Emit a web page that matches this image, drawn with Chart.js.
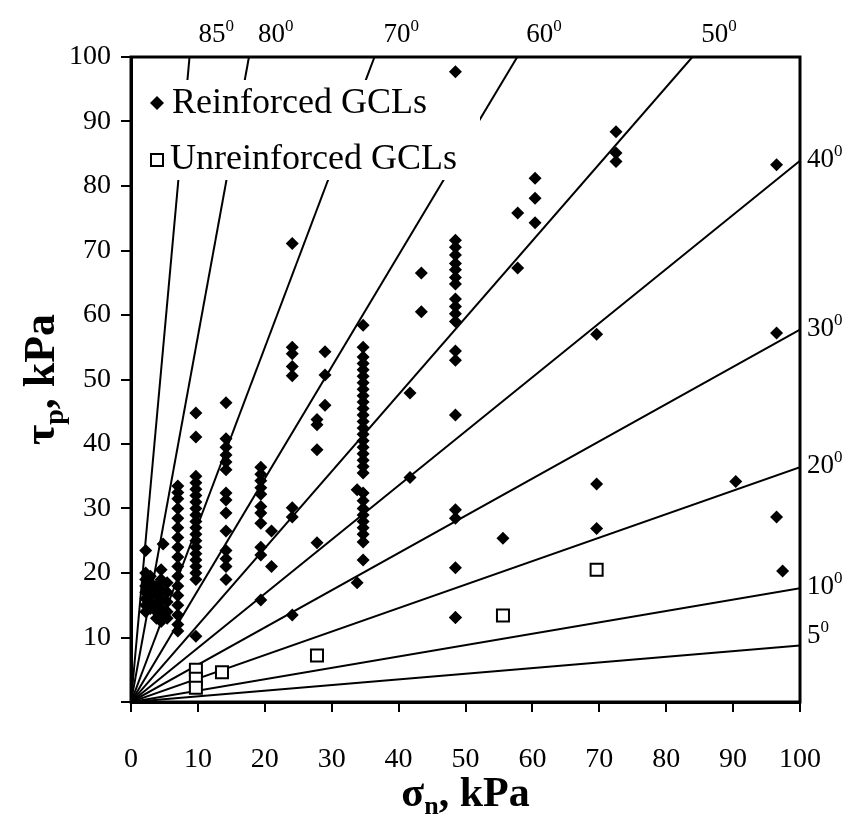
<!DOCTYPE html>
<html>
<head>
<meta charset="utf-8">
<script src="https://cdn.jsdelivr.net/npm/chart.js@4.4.1/dist/chart.umd.min.js"></script>
<style>
  html, body { margin: 0; padding: 0; background: #fff; }
  #wrap { width: 861px; height: 816px; }
</style>
</head>
<body>
<div id="wrap"><canvas id="c" width="861" height="816"></canvas></div>
<script>
// Peak shear strength of GCLs against normal stress (kPa)
const reinforcedSigma = [
  2.2, 2.2, 2.2, 2.2, 2.2, 2.2, 2.2, 2.2,
  2.9, 2.9, 2.9, 2.9, 2.9, 2.9,
  3.8, 3.8, 3.8, 3.8, 3.8,
  4.5, 4.5, 4.5, 4.5, 4.5, 4.5, 4.5,
  4.8,
  5.4, 5.4, 5.4, 5.4, 5.4,
  7.0, 7.0, 7.0, 7.0, 7.0, 7.0, 7.0, 7.0, 7.0, 7.0, 7.0, 7.0, 7.0, 7.0, 7.0, 7.0, 7.0,
  9.7, 9.7, 9.7, 9.7, 9.7, 9.7, 9.7, 9.7, 9.7, 9.7, 9.7, 9.7, 9.7, 9.7, 9.7, 9.7, 9.7, 9.7, 9.7, 9.7,
  14.2, 14.2, 14.2, 14.2, 14.2, 14.2, 14.2, 14.2, 14.2, 14.2, 14.2, 14.2, 14.2, 14.2,
  19.4, 19.4, 19.4, 19.4, 19.4, 19.4, 19.4, 19.4, 19.4, 19.4, 19.4,
  21.0, 21.0,
  24.1, 24.1, 24.1, 24.1, 24.1, 24.1, 24.1, 24.1,
  27.8, 27.8, 27.8, 27.8,
  29.0, 29.0, 29.0,
  34.7, 34.7, 34.7, 34.7, 34.7, 34.7, 34.7, 34.7, 34.7, 34.7,
  34.7, 34.7, 34.7, 34.7, 34.7, 34.7, 34.7, 34.7, 34.7, 34.7,
  34.7, 34.7, 34.7, 34.7, 34.7, 34.7, 34.7, 34.7, 34.7, 34.7,
  33.8, 33.8,
  41.7, 41.7,
  43.4, 43.4,
  48.5, 48.5, 48.5, 48.5, 48.5, 48.5, 48.5, 48.5, 48.5, 48.5,
  48.5, 48.5, 48.5, 48.5, 48.5, 48.5, 48.5, 48.5, 48.5, 48.5,
  55.6,
  57.8, 57.8,
  60.4, 60.4, 60.4,
  69.6, 69.6, 69.6,
  72.5, 72.5, 72.5,
  90.4,
  96.5, 96.5, 96.5,
  97.4
];
const reinforcedTau = [
  23.5, 20, 19, 18, 17, 16, 15, 14,
  19.5, 18.5, 17.5, 16.5, 15.5, 14.5,
  18, 16.5, 15, 14, 13,
  20.5, 19, 17.5, 16, 14.5, 13.5, 12.5,
  24.5,
  18.5, 17, 15.5, 14, 13,
  33.5, 32.5, 31.5, 30, 28.5, 27, 25.5, 24, 22.5, 21, 19.5, 18, 16.5, 15, 13.5, 12, 11,
  44.8, 41.1, 35, 34, 33, 32, 31, 30, 29, 28, 27, 26, 25, 24, 23, 22, 21, 20, 19, 10.2,
  46.4, 40.8, 39.5, 38.3, 37.2, 36, 32.4, 31.3, 29.3, 26.5, 23.5, 22.2, 21, 19,
  36.4, 35.3, 34.3, 33.2, 32.2, 30.3, 29.3, 27.7, 24, 22.8, 15.8,
  26.5, 21,
  71.1, 55, 54, 52, 50.6, 30.1, 28.7, 13.5,
  43.8, 43, 39.1, 24.7,
  54.3, 50.7, 46,
  58.4, 55, 53.5, 52.5, 51.5, 50.5, 49.5, 48.5, 47.5, 46.5,
  45.5, 44.5, 43.5, 42.5, 41.5, 40.5, 39.5, 38.5, 37.5, 36.5,
  35.5, 32.4, 31.2, 30, 29, 28, 27, 26, 24.8, 22,
  32.9, 18.5,
  47.9, 34.8,
  66.5, 60.5,
  97.7, 71.6, 70.5, 69.3, 68, 67, 65.8, 64.8, 62.5, 61.3,
  60.2, 59, 54.4, 53, 44.5, 29.8, 28.5, 20.8, 13.1, 13.1,
  25.4,
  75.8, 67.3,
  81.2, 78.1, 74.3,
  57.0, 33.8, 26.9,
  88.4, 85.1, 83.8,
  34.2,
  83.3, 57.2, 28.7,
  20.3
];
const unreinforcedSigma = [9.7, 9.7, 9.7, 13.6, 27.8, 55.6, 69.6];
const unreinforcedTau   = [5.0, 3.6, 2.2, 4.6, 7.2, 13.4, 20.5];

// Friction angle reference lines (degrees) through the origin
const frictionAngles = [5, 10, 20, 30, 40, 50, 60, 70, 80, 85];
const axisTicks = [0, 10, 20, 30, 40, 50, 60, 70, 80, 90, 100];
const seriesNames = ['Reinforced GCLs', 'Unreinforced GCLs'];

const AX_MAX = 100;
const SERIF = "'Liberation Serif', 'Times New Roman', serif";

function zipPoints(xs, ys) { return xs.map((x, i) => ({ x: x, y: ys[i] })); }

// each angle line runs from the origin to where it leaves the plot box
function angleLine(deg) {
  const t = Math.tan(deg * Math.PI / 180);
  const end = (t * AX_MAX <= AX_MAX) ? { x: AX_MAX, y: t * AX_MAX } : { x: AX_MAX / t, y: AX_MAX };
  return [{ x: 0, y: 0 }, end];
}

const lineSets = frictionAngles.map(a => ({
  type: 'line',
  label: a + '°',
  data: angleLine(a),
  borderColor: '#000',
  borderWidth: 2,
  pointRadius: 0,
  fill: false,
  order: 5
}));

// draws text with a small raised or lowered trailing part
function richText(ctx, parts, x, y, align) {
  let total = 0;
  parts.forEach(p => { ctx.font = p.font; total += ctx.measureText(p.t).width; });
  let cx = align === 'center' ? x - total / 2 : x;
  parts.forEach(p => {
    ctx.font = p.font;
    ctx.fillText(p.t, cx, y + (p.dy || 0));
    cx += ctx.measureText(p.t).width;
  });
}

const decorations = {
  id: 'decorations',
  afterDatasetsDraw(chart) {
    const ctx = chart.ctx;
    const xs = chart.scales.x, ys = chart.scales.y;
    const a = chart.chartArea;
    ctx.save();
    ctx.fillStyle = '#000';
    ctx.textBaseline = 'alphabetic';
    ctx.textAlign = 'left';

    // angle labels along the top and right edges
    frictionAngles.forEach(deg => {
      const end = angleLine(deg)[1];
      const px = xs.getPixelForValue(end.x);
      const py = ys.getPixelForValue(end.y);
      const parts = [
        { t: String(deg), font: '27px ' + SERIF },
        { t: '0', font: '17px ' + SERIF, dy: -11 }
      ];
      if (end.y >= AX_MAX - 1e-9) {
        richText(ctx, parts, px + 9, a.top - 15, 'left');
      } else {
        richText(ctx, parts, a.right + 7, py + (deg === 5 ? -3 : 6), 'left');
      }
    });

    // legend panel inside the plot
    const lx = 145, ly = 80, lw = 335, lh = 100;
    ctx.fillStyle = '#fff';
    ctx.fillRect(lx, ly, lw, lh);
    ctx.fillStyle = '#000';
    ctx.beginPath();
    ctx.moveTo(157, 96); ctx.lineTo(164, 103); ctx.lineTo(157, 110); ctx.lineTo(150, 103);
    ctx.closePath(); ctx.fill();
    ctx.lineWidth = 2; ctx.strokeStyle = '#000';
    ctx.strokeRect(151, 154, 12, 12);
    ctx.font = '36px ' + SERIF;
    ctx.textBaseline = 'middle';
    ctx.fillText(seriesNames[0], 172, 104);
    ctx.fillText(seriesNames[1], 170, 160);

    // plot frame
    ctx.lineWidth = 3;
    ctx.strokeRect(a.left, a.top, a.right - a.left, a.bottom - a.top);

    // axis titles
    ctx.textBaseline = 'alphabetic';
    richText(ctx, [
      { t: 'σ', font: 'bold 42px ' + SERIF },
      { t: 'n', font: 'bold 26px ' + SERIF, dy: 8 },
      { t: ', kPa', font: 'bold 42px ' + SERIF }
    ], (a.left + a.right) / 2, 806, 'center');

    ctx.translate(54, (a.top + a.bottom) / 2);
    ctx.rotate(-Math.PI / 2);
    richText(ctx, [
      { t: 'τ', font: 'bold 44px ' + SERIF },
      { t: 'p', font: 'bold 28px ' + SERIF, dy: 9 },
      { t: ', kPa', font: 'bold 44px ' + SERIF }
    ], 0, 0, 'center');
    ctx.restore();
  }
};

const tickFont = { family: SERIF, size: 28 };

new Chart(document.getElementById('c'), {
  type: 'scatter',
  data: {
    datasets: [
      {
        label: seriesNames[0],
        data: zipPoints(reinforcedSigma, reinforcedTau),
        pointStyle: 'rectRot',
        pointRadius: 6.5,
        backgroundColor: '#000',
        borderColor: '#000',
        borderWidth: 0,
        order: 1
      },
      {
        label: seriesNames[1],
        data: zipPoints(unreinforcedSigma, unreinforcedTau),
        pointStyle: 'rect',
        pointRadius: 8.5,
        backgroundColor: '#fff',
        borderColor: '#000',
        borderWidth: 2,
        order: 0
      },
      ...lineSets
    ]
  },
  options: {
    responsive: false,
    animation: false,
    devicePixelRatio: 1,
    layout: { padding: { top: 57, right: 61, left: 0, bottom: 0 } },
    plugins: { legend: { display: false }, tooltip: { enabled: false } },
    scales: {
      x: {
        type: 'linear', min: 0, max: AX_MAX,
        afterBuildTicks: s => { s.ticks = axisTicks.map(v => ({ value: v })); },
        afterFit: s => { s.height = 114; },
        ticks: { color: '#000', font: tickFont, padding: 31, maxRotation: 0 },
        grid: { drawOnChartArea: false, drawTicks: true, tickLength: 10, color: '#000', lineWidth: 2 },
        border: { display: true, color: '#000', width: 3 }
      },
      y: {
        type: 'linear', min: 0, max: AX_MAX,
        afterBuildTicks: s => { s.ticks = axisTicks.map(v => ({ value: v })); },
        afterFit: s => { s.width = 131; },
        ticks: { color: '#000', font: tickFont, padding: 10, callback: v => (v === 0 ? '' : String(v)) },
        grid: { drawOnChartArea: false, drawTicks: true, tickLength: 10, color: '#000', lineWidth: 2 },
        border: { display: true, color: '#000', width: 3 }
      }
    }
  },
  plugins: [decorations]
});
</script>
</body>
</html>
